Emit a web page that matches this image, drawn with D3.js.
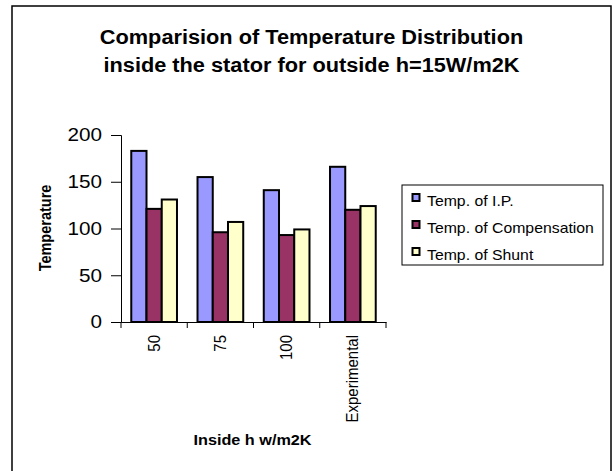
<!DOCTYPE html>
<html><head><meta charset="utf-8">
<script src="https://cdn.jsdelivr.net/npm/d3@7"></script>
<style>body{margin:0;background:#fff;font-family:Arial,"Liberation Sans",sans-serif;}</style>
</head><body><svg id="c" width="613" height="471"></svg>
<script>
const categories = ["50", "75", "100", "Experimental"];
const seriesNames = ["Temp. of I.P.", "Temp. of Compensation", "Temp. of Shunt"];
const ipValues = [183, 155, 141, 166];
const compValues = [121, 96, 93, 120];
const shuntValues = [131, 107, 99, 124];
const yTicks = [0, 50, 100, 150, 200];
const colors = ["#9999FF", "#993366", "#FFFFCC"];

(function () {
const series = [ipValues, compValues, shuntValues];
const svg = d3.select("#c");
const font = "Arial, 'Liberation Sans', sans-serif";
const SX = 1.15; // horizontal stretch of the reference text

function htext(x, y, str, size, bold, anchor, sx) {
  return svg.append("text").attr("transform", `translate(${x},${y}) scale(${sx || SX},1)`)
    .attr("text-anchor", anchor || "start").attr("font-family", font)
    .attr("font-weight", bold ? "bold" : "normal").attr("font-size", size).attr("fill", "#000").text(str);
}

svg.append("rect").attr("x", 12).attr("y", 6).attr("width", 599).attr("height", 480)
  .attr("fill", "#fff").attr("stroke", "#000").attr("stroke-width", 1.5);

const pLeft = 121, pRight = 386, pTop = 135, pBottom = 322;
const x = d3.scaleBand().domain(categories).range([pLeft, pRight]).paddingInner(0.31).paddingOuter(0.155);
const xs = d3.scaleBand().domain(d3.range(3)).range([0, x.bandwidth()]);
const y = d3.scaleLinear().domain([0, 200]).range([pBottom, pTop]);

// title
htext(311.5, 44, "Comparision of Temperature Distribution", 19.5, true, "middle", 1.115);
htext(311.5, 72, "inside the stator for outside h=15W/m2K", 19.5, true, "middle", 1.115);

// bars
categories.forEach((c, i) => {
  series.forEach((s, k) => {
    svg.append("rect").attr("x", x(c) + xs(k)).attr("y", y(s[i]))
      .attr("width", xs.bandwidth()).attr("height", y(0) - y(s[i]))
      .attr("fill", colors[k]).attr("stroke", "#000").attr("stroke-width", 2);
  });
});

// y axis
const ya = svg.append("g").attr("transform", `translate(${pLeft},0)`)
  .call(d3.axisLeft(y).tickValues(yTicks).tickSize(10).tickPadding(9));
ya.select(".domain").attr("stroke", "#000");
ya.selectAll(".tick line").attr("stroke", "#000");
ya.selectAll("text").attr("font-family", font).attr("font-size", 18).attr("fill", "#000")
  .attr("x", -19 / SX).attr("transform", `scale(${SX},1)`);

// x axis
const xa = svg.append("g").attr("transform", `translate(0,${pBottom})`)
  .call(d3.axisBottom(x).tickSize(0).tickFormat(""));
xa.select(".domain").attr("stroke", "#000");
const bnd = categories.map(c => x(c) - x.step() * x.paddingInner() / 2).concat([pRight]);
bnd.forEach(b => svg.append("line").attr("x1", b).attr("x2", b).attr("y1", pBottom).attr("y2", pBottom + 6).attr("stroke", "#000"));
categories.forEach(c => {
  const cx = x(c) + x.bandwidth() / 2;
  svg.append("text").attr("transform", `translate(${cx + 5.5},335) scale(${SX},1) rotate(-90)`)
    .attr("text-anchor", "end").attr("font-family", font).attr("font-size", 15).text(c);
});

// axis titles
svg.append("text").attr("transform", `translate(51,228) scale(${SX},1) rotate(-90)`).attr("text-anchor", "middle")
  .attr("font-family", font).attr("font-weight", "bold").attr("font-size", 14.5).text("Temperature");
htext(252.5, 445, "Inside h w/m2K", 14.5, true, "middle", 1.12);

// legend
const lg = svg.append("g");
lg.append("rect").attr("x", 402).attr("y", 185).attr("width", 201).attr("height", 80)
  .attr("fill", "#fff").attr("stroke", "#000");
seriesNames.forEach((n, k) => {
  const cy = 197.5 + k * 27;
  lg.append("rect").attr("x", 412.5).attr("y", cy - 3.5).attr("width", 7).attr("height", 7)
    .attr("fill", colors[k]).attr("stroke", "#000").attr("stroke-width", 2);
  htext(427, cy + 8.5, n, 14, false, "start", 1.13);
});
})();
</script></body></html>
